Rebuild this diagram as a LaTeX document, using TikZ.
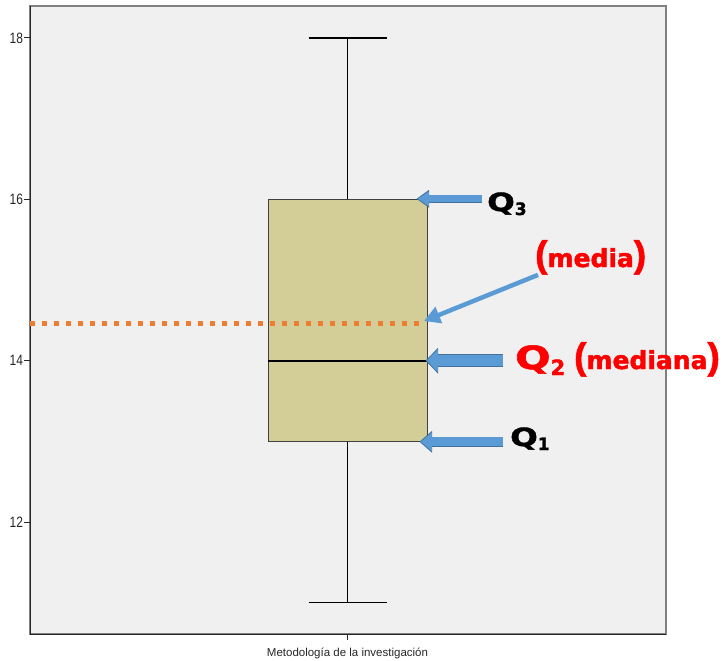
\documentclass[tikz,border=0pt]{standalone}
\usepackage{fontspec}
\setmainfont{Liberation Sans}
\newfontfamily\calloutfont{DejaVu Sans}[BoldFeatures={FakeBold=1.6}]
\newfontfamily\parenfont{Liberation Sans}[BoldFeatures={FakeBold=1.6}]
\usetikzlibrary{arrows.meta,positioning}

\definecolor{panelgray}{RGB}{240,240,240}
\definecolor{framegray}{RGB}{128,128,128}
\definecolor{boxkhaki}{RGB}{211,206,152}
\definecolor{meanorange}{RGB}{237,125,49}
\definecolor{arrowblue}{RGB}{91,155,213}
\definecolor{arrowedge}{RGB}{65,113,156}
\definecolor{labelred}{RGB}{255,0,0}

\newcommand{\bigQ}{\scalebox{1.3}[1]{Q}}
\newcommand{\tallparen}[1]{{\fontsize{37}{37}\selectfont\parenfont\bfseries #1}}

\tikzset{
  blockarrow/.style={draw=arrowblue, line width=#1, shorten >=1.3pt,
    -{Triangle[length=11pt,width=0pt 2]},
    preaction={draw=arrowedge, line width=#1+1.5pt, shorten >=0pt,
      -{Triangle[length=12.5pt,width=0pt 2]}}},
  meanarrow/.style={draw=arrowblue, line width=4.5pt,
    -{Triangle[length=16pt,width=17pt]}},
  callout/.style={anchor=base west, inner sep=0pt,
    font=\calloutfont\bfseries\fontsize{25}{25}\selectfont},
}

\begin{document}
\begin{tikzpicture}[x=1pt,y=-1pt,
    whisker/.style={line width=1.5pt, black},
    axisline/.style={line width=1pt, black!85},
    ticklabel/.style={anchor=east, inner sep=1pt, xscale=0.8,
      font=\fontsize{15}{15}\selectfont, black!85}]
  \useasboundingbox (0,0) rectangle (724,661);

  % plot panel
  \fill[panelgray] (30,6) rectangle (666,634);
  \draw[framegray, line width=1.5pt] (30,6) rectangle (666,634);
  \draw[axisline] (30,6) -- (30,634) -- (666,634);

  % y axis
  \foreach \val/\yy in {12/522, 14/360.7, 16/199.3, 18/38} {
    \draw[axisline] (24,\yy) -- (30,\yy);
    \node[ticklabel] (tick\val) at (24,\yy) {\val};
  }

  % box and whiskers
  \node[draw=black!75, line width=1pt, fill=boxkhaki, minimum width=159pt,
    minimum height=242pt, inner sep=0pt] (box) at (347.5,320.3) {};
  \coordinate (wtop) at (box.north |- 0,38);
  \coordinate (wbot) at (box.south |- 0,602.7);
  \draw[whisker] (wtop) -- (box.north);
  \draw[whisker] (box.south) -- (wbot);
  \draw[whisker] ([xshift=-39pt]wtop) -- ([xshift=39pt]wtop);
  \draw[whisker] ([xshift=-39pt]wbot) -- ([xshift=39pt]wbot);

  % x axis
  \draw[axisline] (box.south |- 0,634) -- (box.south |- 0,640);
  \node[font=\fontsize{11.5}{11.5}\selectfont, black!85] (xlab) at (box.south |- 0,653)
    {Metodología de la investigación};

  % median
  \draw[line width=2pt, black] (box.west |- 0,360.7) -- (box.east |- 0,360.7);

  % mean
  \coordinate (meanl) at (30,323.5);
  \coordinate (meanr) at (425,323.5);
  \draw[meanorange, line width=5pt, dash pattern=on 5pt off 7pt] (meanl) -- (meanr);

  % callouts
  \node[callout] (q3lab) at (487,211)
    {\bigQ\raisebox{-4pt}{\fontsize{17}{17}\selectfont 3}};
  \node[callout, text=labelred] (medialab) at (535,267)
    {\tallparen{(}media\tallparen{)}};
  \node[callout, text=labelred] (q2lab) at (515,369)
    {\fontsize{32}{32}\selectfont\bigQ\raisebox{-6pt}{\fontsize{21}{21}\selectfont 2}\hspace{9pt}%
     \fontsize{25}{25}\selectfont\tallparen{(}mediana\tallparen{)}};
  \node[callout] (q1lab) at (510,446)
    {\bigQ\raisebox{-4pt}{\fontsize{17}{17}\selectfont 1}};

  \coordinate (q3tip) at ([xshift=-11pt]box.north east);
  \coordinate (q2tip) at ([xshift=-2pt]box.east |- 0,360.7);
  \coordinate (q1tip) at ([xshift=-8pt]box.south east);
  \coordinate (meantip) at (424,321);

  \draw[blockarrow=7pt] ([xshift=-5pt]q3lab.west |- q3tip) -- (q3tip);
  \draw[blockarrow=11pt] ([xshift=-12pt]q2lab.west |- q2tip) -- (q2tip);
  \draw[blockarrow=9pt] ([xshift=-7pt]q1lab.west |- q1tip) -- (q1tip);
  \draw[meanarrow] ([xshift=3pt]medialab.south west) -- (meantip);
\end{tikzpicture}
\end{document}
